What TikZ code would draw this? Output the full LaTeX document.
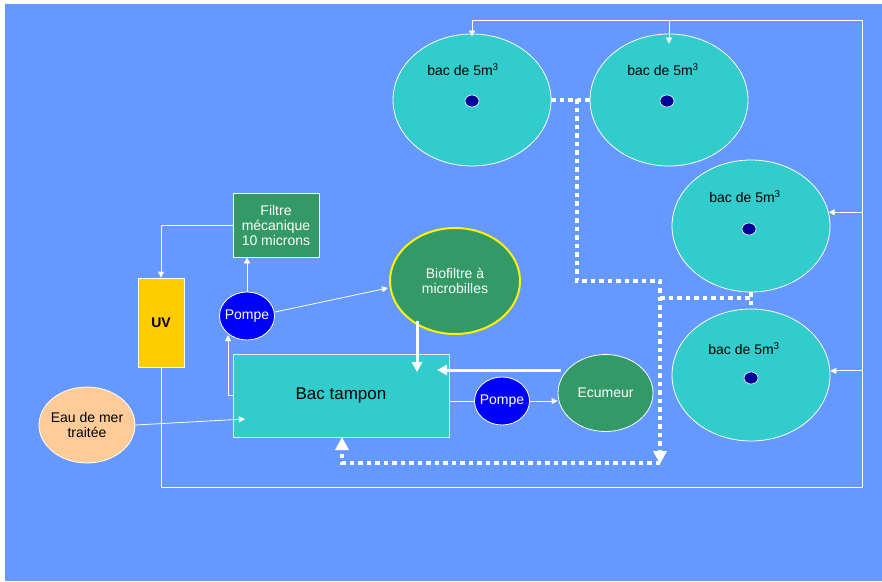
\documentclass[tikz,border=0pt]{standalone}
\usepackage{fontspec}
\setmainfont{Liberation Sans}
\usetikzlibrary{arrows.meta,shapes.geometric}
\definecolor{bg}{HTML}{6699FF}
\definecolor{tankc}{HTML}{33CCCC}
\definecolor{dotc}{HTML}{000099}
\definecolor{grn}{HTML}{339966}
\definecolor{pmp}{HTML}{0000FF}
\definecolor{uvc}{HTML}{FFCC00}
\definecolor{peach}{HTML}{FFCC99}
\begin{document}
\begin{tikzpicture}[x=1pt,y=-1pt,
  fnt/.style={font=\fontsize{14}{15}\selectfont},
  tankE/.style={ellipse,draw=white,line width=0.8pt,fill=tankc,minimum width=158pt,minimum height=132pt,inner sep=0pt},
  dotE/.style={ellipse,draw=white,line width=0.6pt,fill=dotc,minimum width=14pt,minimum height=12pt,inner sep=0pt},
  lbl/.style={fnt,text=black,inner sep=0pt},
  pumpE/.style={ellipse,draw=white,line width=0.8pt,fill=pmp,minimum width=55pt,minimum height=48pt,inner sep=0pt,
    label={[fnt,text=white,inner sep=0pt]center:Pompe}},
  conn/.style={draw=white,line width=0.8pt},
  arr/.style={conn,-{Triangle[width=6pt,length=6pt]}},
  thickarr/.style={draw=white,line width=3pt,-{Triangle[width=10pt,length=10pt]}},
  dots/.style={draw=white,line width=4.5pt,dash pattern=on 4.5pt off 4pt},
  dotsarr/.style={dots,-{Triangle[width=13pt,length=13pt]}}
]
\fill[white] (0,0) rectangle (882,581);
\fill[bg] (5,4) rectangle (882,581);
\useasboundingbox (0,0) rectangle (882,581);

% tanks
\node[tankE] (t1) at (472,100) {};
\node[tankE] (t2) at (669,100) {};
\node[tankE] (t3) at (751,226) {};
\node[tankE] (t4) at (751,375) {};
\node[lbl] (t1l) at (463,70) {bac de 5m\textsuperscript{3}};
\node[lbl] (t2l) at (663,70) {bac de 5m\textsuperscript{3}};
\node[lbl] (t3l) at (745,197) {bac de 5m\textsuperscript{3}};
\node[lbl] (t4l) at (744,349) {bac de 5m\textsuperscript{3}};
\node[dotE] (d1) at (472,101) {};
\node[dotE] (d2) at (667,101) {};
\node[dotE] (d3) at (749,229) {};
\node[dotE] (d4) at (751,378) {};

% components
\node[draw=white,line width=0.8pt,fill=grn,minimum width=86pt,minimum height=64pt,inner sep=0pt,fnt,text=white,align=center] (filt) at (276,225) {Filtre\\m\'ecanique\\10 microns};
\node[draw=white,line width=0.8pt,fill=uvc,minimum width=46pt,minimum height=89pt,inner sep=0pt,font=\fontsize{14}{15}\selectfont\bfseries,text=black] (uv) at (161,322.5) {UV};
\node[pumpE] (p1) at (247,316) {};
\node[ellipse,draw=yellow,line width=2pt,fill=grn,minimum width=130pt,minimum height=106pt,inner sep=0pt,fnt,text=white,align=center] (bio) at (455,281) {Biofiltre \`a\\microbilles};
\node[draw=white!80!tankc,line width=0.8pt,fill=tankc,minimum width=216pt,minimum height=83pt,inner sep=0pt,font=\fontsize{17}{19}\selectfont,text=black] (bac) at (341,395.5) {Bac tampon};
\node[pumpE] (p2) at (502,401) {};
\node[ellipse,draw=white,line width=0.8pt,fill=grn,minimum width=95pt,minimum height=77pt,inner sep=0pt,fnt,text=white] (ecu) at (605.5,393) {Ecumeur};
\node[ellipse,draw=white,line width=0.8pt,fill=peach,minimum width=96pt,minimum height=76pt,inner sep=0pt,
  label={[fnt,text=black,align=center,inner sep=0pt]center:Eau de mer\\trait\'ee}] (eau) at (87,425) {};

% return loop
\coordinate (tr) at (862,20);
\coordinate (br) at (862,487);
\coordinate (bl) at (161,487);
\draw[conn] (uv.south) -- (bl) -- (br) -- (tr) -- (t1.north |- tr);
\draw[arr] (t1.north |- tr) -- ([yshift=-3pt]t1.north);
\draw[arr] (t2.north |- tr) -- ([yshift=-10pt]t2.north);
\draw[arr] (t3.10 -| tr) -- (t3.10);
\draw[arr] (t4.3 -| tr) -- (t4.3);

% treatment connectors
\draw[arr] (filt.west) -| (uv.north);
\draw[arr] (p1.north) -- (filt.south -| p1.north);
\coordinate (bioin) at (388,288);
\draw[arr] (p1.8) -- (bioin);
\coordinate (p1in) at (228,335);
\draw[arr] (bac.west) -- (p1in |- bac.west) -- (p1in);
\coordinate (biobot) at (417,321);
\coordinate (bactop) at (417,372);
\draw[thickarr] (biobot) -- (bactop);
\coordinate (ecul) at (561,370);
\coordinate (bacr) at (437,370);
\draw[thickarr] (ecul) -- (bacr);
\draw[conn] (bac.east |- p2.west) -- (p2.west);
\draw[arr] (p2.east) -- (p2.east -| ecu.west);
\coordinate (eauin) at (245,419);
\draw[arr] (eau.east) -- (eauin);

% dotted water path
\coordinate (j1) at (577,99);
\coordinate (k1) at (660,281);
\coordinate (k2) at (660,464);
\coordinate (k3) at (342,463);
\coordinate (k4) at (342,437);
\coordinate (j2) at (660,298);
\draw[dots] (t1.east) -- (t2.west);
\draw[dotsarr] (j1) |- (k1) -- (k2);
\draw[dotsarr] (k2 |- k3) -- (k3) -- (k4);
\draw[dots] (j2) -- (j2 -| t3.south);
\draw[dots] (t3.south) -- (t4.north);
\end{tikzpicture}
\end{document}
